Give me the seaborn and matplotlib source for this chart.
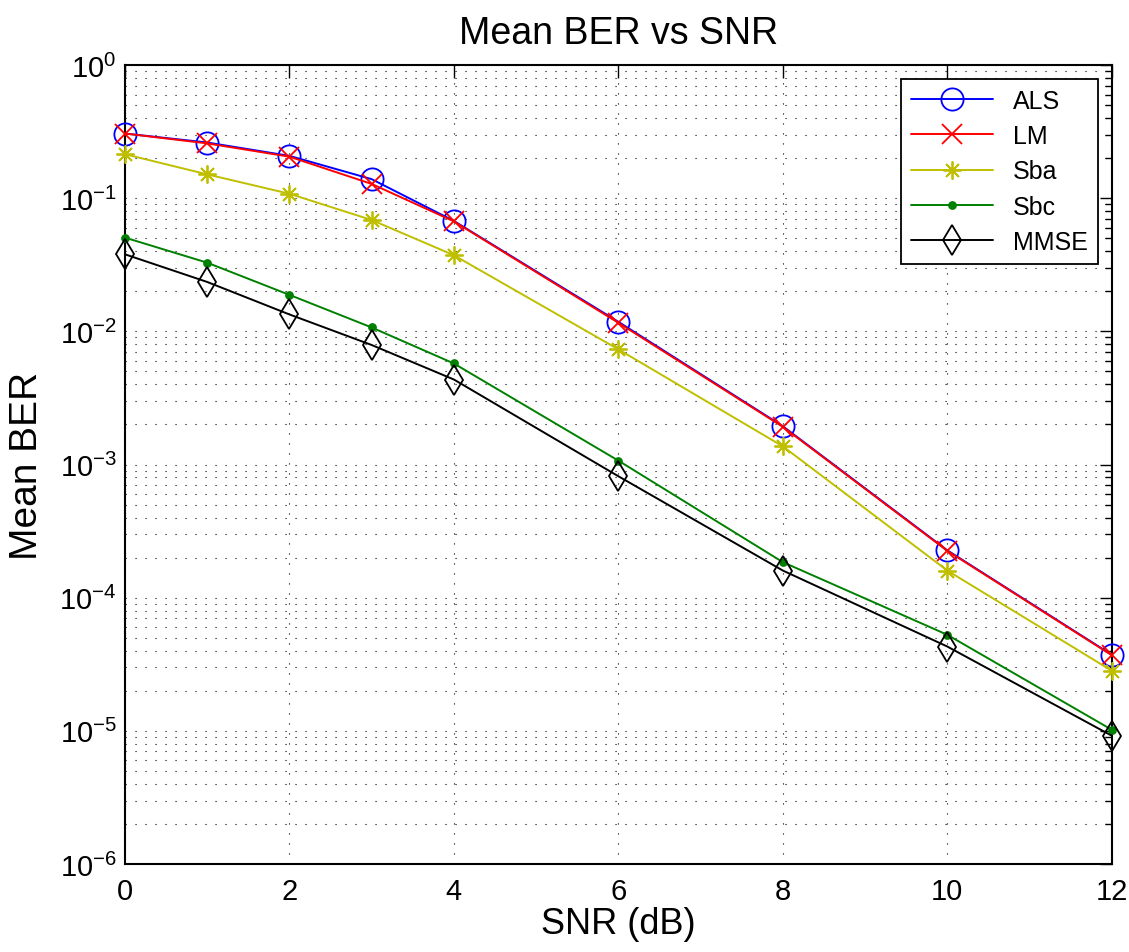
import matplotlib
matplotlib.use("Agg")
import matplotlib.pyplot as plt
import matplotlib.ticker as mticker
import seaborn as sns
import numpy as np
import pandas as pd

sns.set_theme(style="white")
plt.rcParams['font.family'] = ['Liberation Sans', 'DejaVu Sans']
plt.rcParams['mathtext.fontset'] = 'custom'
plt.rcParams['mathtext.rm'] = 'Liberation Sans'
plt.rcParams['mathtext.it'] = 'Liberation Sans'
plt.rcParams['text.color'] = 'black'
plt.rcParams['axes.labelcolor'] = 'black'

# data
snr = [0, 1, 2, 3, 4, 6, 8, 10, 12]
ber_als = [0.306, 0.262, 0.208, 0.139, 0.0675, 0.0118, 0.00194, 0.000227, 3.73e-5]
ber_lm = [0.306, 0.258, 0.205, 0.128, 0.067, 0.0116, 0.00192, 0.000225, 3.7e-5]
ber_sba = [0.214, 0.151, 0.108, 0.0686, 0.0373, 0.00733, 0.00137, 0.00016, 2.83e-5]
ber_sbc = [0.0506, 0.0328, 0.0188, 0.0107, 0.00574, 0.00107, 0.000185, 5.27e-5, 1.02e-5]
ber_mmse = [0.0379, 0.0235, 0.0134, 0.0079, 0.00435, 0.000817, 0.00016, 4.3e-5, 9.2e-6]

series = [
    ("ALS", ber_als, "#0000ff", "o", 16, "none"),
    ("LM", ber_lm, "#ff0000", "x", 14, "none"),
    ("Sba", ber_sba, "#bfbf00", (8, 2, 0), 13, "none"),
    ("Sbc", ber_sbc, "#008000", "o", 5, "#008000"),
    ("MMSE", ber_mmse, "#000000", "d", 15, "none"),
]

fig = plt.figure(figsize=(11.29, 9.53), dpi=100)
ax = fig.add_axes([0.1107, 0.0923, 0.874, 0.8384])

for name, vals, col, mk, ms, mfc in series:
    df = pd.DataFrame({"snr": snr, "ber": vals})
    sns.lineplot(data=df, x="snr", y="ber", ax=ax, color=col, marker=mk,
                 markersize=ms, mec=col, mfc=mfc, mew=1.3, lw=1.4, label=name,
                 clip_on=False, zorder=3)

ax.set_yscale("log")
ax.set_xlim(0, 12)
ax.set_ylim(1e-6, 1)
ax.set_xticks(range(0, 13, 2))
ax.yaxis.set_major_locator(mticker.LogLocator(base=10, numticks=10))
ax.yaxis.set_minor_locator(mticker.LogLocator(base=10, subs=np.arange(2, 10), numticks=100))
ax.yaxis.set_minor_formatter(mticker.NullFormatter())

ax.grid(True, which="both", axis="y", color="black", lw=0.8, ls=(0, (1, 8)))
ax.grid(True, which="major", axis="x", color="black", lw=0.8, ls=(0, (1, 8)))

ax.tick_params(which="both", direction="in", top=True, right=True, colors="black")
ax.tick_params(which="major", length=9, width=1.0)
ax.tick_params(which="minor", length=5, width=1.0)
ax.tick_params(axis="x", labelsize=21, pad=9)
ax.tick_params(axis="y", labelsize=21, pad=6)
for s in ax.spines.values():
    s.set_color("black")
    s.set_linewidth(1.5)

ax.set_title("Mean BER vs SNR", fontsize=27, pad=16)
ax.set_xlabel("SNR (dB)", fontsize=26, labelpad=1)
ax.set_ylabel("Mean BER", fontsize=28, labelpad=10)

leg = ax.legend(loc="upper right", fontsize=18, frameon=True, fancybox=False,
                edgecolor="black", framealpha=1, borderaxespad=0.55,
                handlelength=3.3, labelspacing=0.45, borderpad=0.4)
leg.get_frame().set_linewidth(1.3)
for t in leg.get_texts():
    t.set_color("black")

fig.savefig("out.png", dpi=100)
